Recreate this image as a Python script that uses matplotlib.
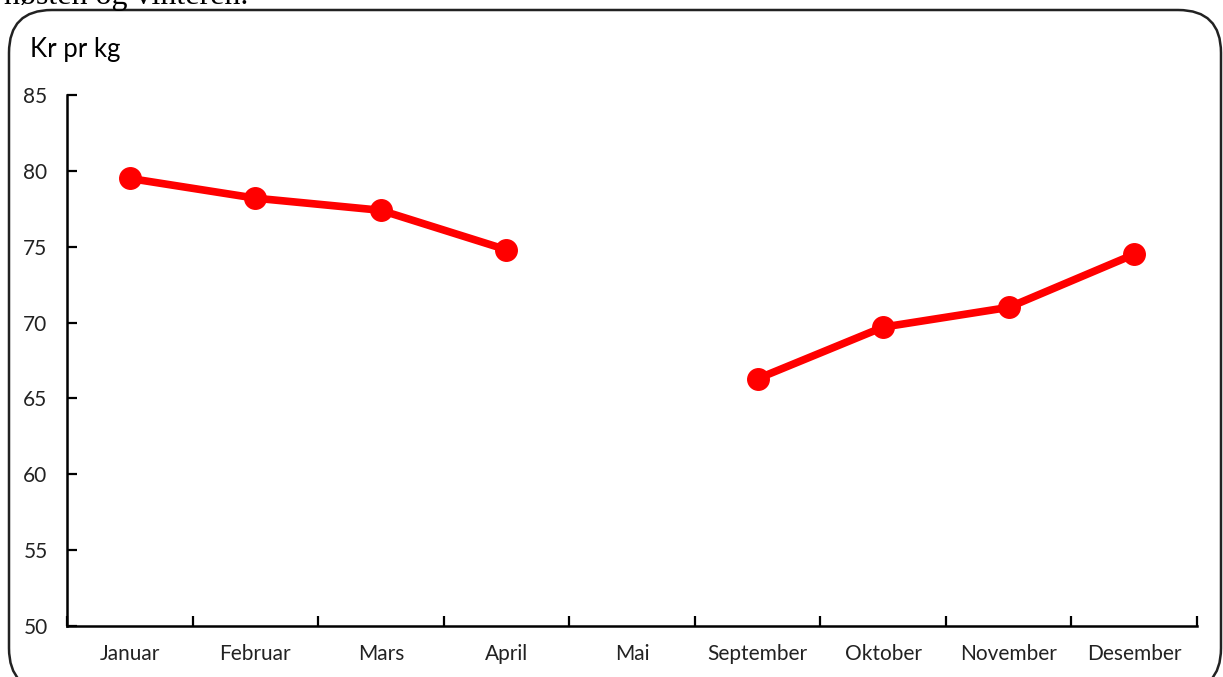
import numpy as np
import matplotlib
matplotlib.use("Agg")
import matplotlib.pyplot as plt
from matplotlib.patches import FancyBboxPatch

months = ["Januar", "Februar", "Mars", "April", "Mai", "September", "Oktober", "November", "Desember"]
prices = [79.5, 78.2, 77.4, 74.8, np.nan, 66.3, 69.7, 71.0, 74.5]
yticks = [50, 55, 60, 65, 70, 75, 80, 85]
ylabel = "Kr pr kg"
caption = "høsten og vinteren."

W, H = 1223, 677
fig = plt.figure(figsize=(W / 100, H / 100), dpi=100)
fig.patch.set_facecolor("white")

# clipped caption at the very top
fig.text(4 / W, 1 - 4 / H, caption, family="Liberation Serif", fontsize=23,
         va="baseline", ha="left", color="black", zorder=0)

# rounded frame
frame = FancyBboxPatch((9 / W, -14 / H), (1212 / W), (681 / H),
                       boxstyle="round,pad=0,rounding_size=0.035",
                       transform=fig.transFigure, fill=False,
                       edgecolor="#222222", linewidth=1.8, mutation_aspect=W / H,
                       zorder=-1)
fig.patches.append(frame)

ax = fig.add_axes([67 / W, 1 - 626 / H, (1197 - 67) / W, (626 - 95) / H])
ax.set_zorder(2)
ax.set_facecolor("none")
x = np.arange(len(months))
ax.plot(x, prices, color="#ff0000", linewidth=5.5, marker="o", markersize=15.5,
        markerfacecolor="#ff0000", markeredgecolor="#ff0000", solid_capstyle="round")

ax.set_xlim(-0.5, len(months) - 0.5)
ax.set_ylim(50, 85)
ax.set_yticks(yticks)
ax.set_yticklabels([str(v) for v in yticks], family="Lato", fontsize=15, color="#222222")
ax.set_xticks(x)
ax.set_xticklabels(months, family="Lato", fontsize=15, color="#222222")
ax.set_xticks(np.arange(-0.5, len(months), 1.0), minor=True)

ax.tick_params(axis="x", which="major", length=0, pad=13)
ax.tick_params(axis="x", which="minor", length=7, width=1.6, direction="in", color="black")
ax.tick_params(axis="y", which="major", length=7, width=1.6, direction="in", pad=14, color="black")

for s in ["top", "right"]:
    ax.spines[s].set_visible(False)
for s in ["left", "bottom"]:
    ax.spines[s].set_linewidth(1.8)
    ax.spines[s].set_color("black")

fig.text(30 / W, 1 - 50 / H, ylabel, family="Lato", fontsize=18.5, va="center", ha="left",
         color="black")

fig.savefig("out.png", dpi=100)
